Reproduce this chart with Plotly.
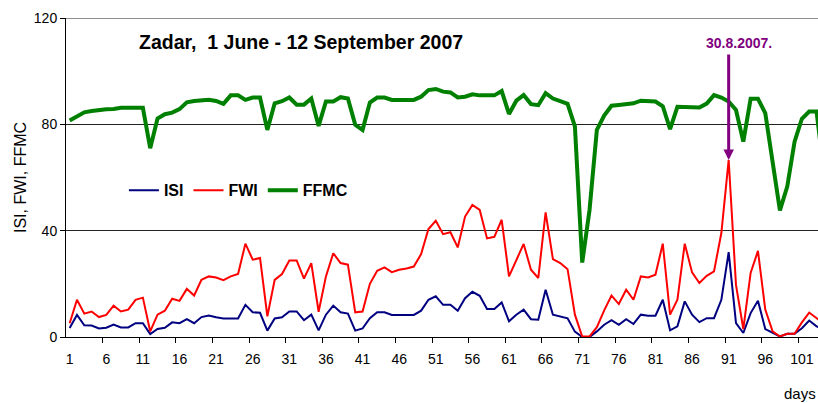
import plotly.graph_objects as go

days = list(range(1, 105))

isi = [3.4, 8.3, 4.4, 4.3, 3.2, 3.5, 4.7, 3.6, 3.6, 5.2,
       5.2, 1.1, 3.0, 3.5, 5.5, 5.2, 6.7, 5.2, 7.5, 8.1,
       7.4, 7.0, 7.0, 7.0, 12.1, 9.3, 9.1, 2.4, 7.0, 7.4,
       9.6, 9.6, 6.3, 8.4, 2.5, 8.4, 11.8, 9.3, 8.8, 2.4,
       3.2, 7.1, 9.3, 9.3, 8.3, 8.3, 8.3, 8.3, 9.9, 14.0,
       15.3, 12.1, 12.1, 9.9, 14.6, 17.0, 15.5, 10.5, 10.5, 13.0,
       5.9, 8.4, 10.3, 6.7, 6.5, 17.8, 8.4, 7.8, 7.0, 2.0,
       0.0, 0.0, 2.1, 4.6, 6.3, 4.6, 6.7, 4.9, 8.4, 8.0,
       8.0, 14.0, 2.5, 4.0, 13.4, 8.4, 5.6, 7.1, 7.1, 14.0,
       31.9, 5.2, 1.5, 9.0, 13.6, 3.0, 1.5, 0.2, 1.2, 1.2,
       3.3, 6.2, 4.0, 3.0]

fwi = [5.2, 14.0, 8.8, 9.6, 7.5, 8.3, 11.8, 9.6, 10.3, 14.0,
       14.8, 2.1, 8.4, 9.9, 14.4, 13.6, 18.1, 15.6, 21.5, 22.8,
       22.4, 21.4, 22.8, 23.7, 35.1, 29.1, 29.7, 7.8, 21.5, 23.7,
       28.8, 28.8, 22.0, 27.8, 9.5, 22.8, 31.5, 27.8, 27.2, 9.3,
       9.6, 20.0, 24.9, 26.2, 24.4, 25.3, 25.8, 26.5, 31.2, 40.6,
       43.7, 38.7, 39.4, 33.7, 45.3, 49.7, 47.8, 37.1, 37.7, 44.1,
       22.8, 28.8, 35.0, 25.3, 22.2, 46.9, 29.3, 27.8, 25.5, 8.4,
       0.2, 0.2, 3.7, 10.0, 15.6, 12.4, 17.8, 14.0, 22.8, 22.4,
       23.4, 35.1, 8.4, 14.0, 35.1, 24.3, 20.3, 23.0, 24.7, 39.1,
       66.6, 19.6, 3.0, 24.1, 32.4, 10.3, 2.1, 0.2, 1.2, 1.2,
       5.5, 9.2, 7.0, 5.0]

ffmc = [81.4, 82.9, 84.5, 85.0, 85.4, 85.7, 85.8, 86.2, 86.2, 86.2,
        86.2, 71.0, 82.2, 83.8, 84.4, 85.7, 88.3, 88.8, 88.9, 89.2,
        88.8, 87.7, 90.9, 90.9, 89.2, 90.1, 90.1, 77.9, 87.9, 88.7,
        90.1, 87.4, 87.4, 89.7, 79.4, 88.6, 88.6, 90.2, 89.7, 79.8,
        77.9, 88.2, 90.1, 90.1, 89.2, 89.2, 89.2, 89.2, 90.4, 92.9,
        93.3, 92.3, 92.0, 90.1, 90.4, 91.3, 90.9, 90.9, 90.9, 92.5,
        83.9, 88.9, 91.0, 87.6, 87.2, 91.7, 89.7, 88.7, 87.7, 79.2,
        28.0, 47.8, 77.9, 83.3, 87.0, 87.3, 87.7, 87.9, 88.9, 88.8,
        88.6, 86.8, 78.2, 86.6, 86.5, 86.1, 86.3, 87.8, 91.0, 90.1,
        88.6, 85.4, 73.5, 89.6, 89.6, 84.2, 66.0, 47.6, 56.6, 73.5,
        82.1, 84.8, 84.8, 62.0]

tick_labels = [str(d) for d in range(1, 102, 5)]
tick_vals = list(range(1, 102, 5))
boundary_ticks = [d - 0.5 for d in range(6, 102, 5)]

title_text = "Zadar,\u00a0 1 June - 12 September 2007"
date_text = "30.8.2007."
peak_day = 91

FONT = "Liberation Sans, Arial, sans-serif"

fig = go.Figure()
fig.add_trace(go.Scatter(x=days, y=isi, name="ISI", mode="lines",
                         line=dict(color="#000080", width=2)))
fig.add_trace(go.Scatter(x=days, y=fwi, name="FWI", mode="lines",
                         line=dict(color="#ff0000", width=2)))
fig.add_trace(go.Scatter(x=days, y=ffmc, name="FFMC", mode="lines",
                         line=dict(color="#008000", width=4)))

fig.update_layout(
    width=818, height=403,
    margin=dict(l=66, r=0, t=18, b=66, autoexpand=False),
    paper_bgcolor="white", plot_bgcolor="white",
    font=dict(family=FONT, size=14, color="black"),
    showlegend=True,
    legend=dict(orientation="h", x=0.077, y=0.46, xanchor="left", yanchor="middle",
                bgcolor="rgba(0,0,0,0)", font=dict(size=16, family=FONT, weight="bold")),
    xaxis=dict(range=[0.5, 103.2], tickmode="array", tickvals=tick_vals, ticktext=tick_labels,
               ticks="outside", ticklen=9, tickcolor="rgba(0,0,0,0)", automargin=False,
               showgrid=False, zeroline=False, showline=True, linecolor="black", linewidth=1,
               tickfont=dict(size=14),
               minor=dict(tickvals=boundary_ticks, ticks="outside", ticklen=5,
                          tickcolor="black", showgrid=False)),
    yaxis=dict(range=[0, 120], tickvals=[0, 40, 80, 120], ticks="outside", ticklen=5,
               tickcolor="black", showgrid=True, gridcolor="#222222", gridwidth=1,
               zeroline=False, showline=True, linecolor="black", linewidth=1,
               tickfont=dict(size=14), automargin=False,
               title=dict(text="ISI, FWI, FFMC", font=dict(size=16), standoff=3)),
)

# top gridline at 120 (plot edge)
fig.add_shape(type="line", xref="paper", yref="y", x0=0, x1=1, y0=120, y1=120,
              line=dict(color="#222222", width=1), layer="below")

fig.add_annotation(text="<b>" + title_text + "</b>", xref="paper", yref="paper",
                   x=0.0944, y=0.925, xanchor="left", yanchor="middle",
                   showarrow=False, font=dict(size=19.5, color="black"))
fig.add_annotation(text="<b>" + date_text + "</b>", xref="x", yref="y",
                   x=peak_day + 1.4, y=110.6, xanchor="center", yanchor="middle",
                   showarrow=False, font=dict(size=14, color="#800080"))
fig.add_annotation(text="", xref="x", yref="y", x=peak_day, y=fwi[peak_day - 1],
                   axref="x", ayref="y", ax=peak_day, ay=106.8,
                   showarrow=True, arrowhead=2, arrowsize=0.7, arrowwidth=3,
                   arrowcolor="#800080", standoff=0)
fig.add_annotation(text="days", xref="paper", yref="paper", x=0.952, y=-0.176,
                   xanchor="left", yanchor="middle", showarrow=False,
                   font=dict(size=15, color="black"))

fig.write_html("out.html", config={"displayModeBar": False},
               post_script="document.body.style.margin='0';document.body.style.overflow='hidden';")
